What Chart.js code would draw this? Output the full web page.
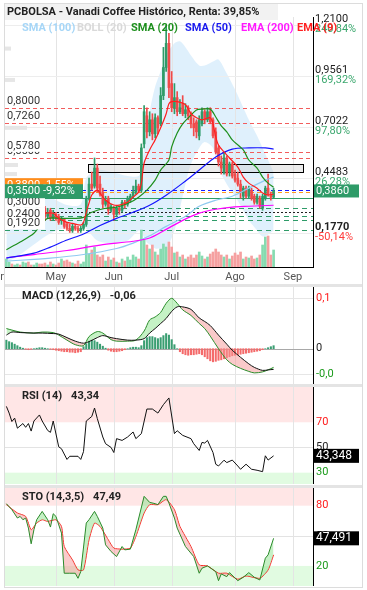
<!DOCTYPE html>
<html lang="es">
<head>
<meta charset="utf-8">
<title>PCBOLSA - Vanadi Coffee</title>
<script src="https://cdn.jsdelivr.net/npm/chart.js@4.4.1/dist/chart.umd.min.js"></script>
<style>
  html, body { margin: 0; padding: 0; background: #fff; }
  #wrap { position: relative; width: 367px; height: 590px; overflow: hidden; }
  #wrap canvas { position: absolute; left: 0; }
  .frame { position: absolute; left: 4px; top: 3px; width: 357px; height: 583px; border: 1px solid #dcdcdc; }
  .sep { position: absolute; left: 5px; width: 357px; background: #e4e4e4; }
</style>
</head>
<body>
<div id="wrap">
  <div class="frame"></div>
  <div class="sep" style="top:284px;height:3px"></div>
  <div class="sep" style="top:384px;height:3px"></div>
  <div class="sep" style="top:485px;height:3px"></div>
  <canvas id="priceChart" width="367" height="285" style="top:0"></canvas>
  <canvas id="macdChart" width="367" height="100" style="top:285px"></canvas>
  <canvas id="rsiChart" width="367" height="100" style="top:385px"></canvas>
  <canvas id="stoChart" width="367" height="105" style="top:485px"></canvas>
</div>
<script>
// ============================================
// PCBOLSA — Vanadi Coffee, daily candles + indicators
// ============================================

// ---- month labels (trading-day index where each month starts) ----
const months   = ['Abr', 'May', 'Jun', 'Jul', 'Ago', 'Sep'];
const monthDay = [-4, 18, 39, 60, 83, 104];

// ---- daily OHLC + volume, trading day 0 = 3 Apr ----
const open = [
  0.26, 0.27, 0.29, 0.26, 0.28, 0.30, 0.27, 0.29, 0.31, 0.28,
  0.27, 0.29, 0.30, 0.28, 0.30, 0.26, 0.29, 0.25, 0.27, 0.26,
  0.24, 0.25, 0.22, 0.20, 0.19, 0.21, 0.20, 0.19, 0.20, 0.22,
  0.35, 0.42, 0.41, 0.50, 0.42, 0.38, 0.32, 0.35, 0.29, 0.30,
  0.27, 0.30, 0.29, 0.33, 0.32, 0.34, 0.36, 0.38, 0.41, 0.39,
  0.62, 0.76, 0.68, 0.74, 0.67, 0.75, 0.72, 0.86, 1.00, 1.12,
  0.92, 0.80, 0.85, 0.78, 0.82, 0.77, 0.80, 0.76, 0.72, 0.73,
  0.66, 0.72, 0.78, 0.74, 0.78, 0.74, 0.68, 0.60, 0.53, 0.48,
  0.55, 0.48, 0.52, 0.47, 0.45, 0.42, 0.36, 0.40, 0.36, 0.39,
  0.36, 0.33, 0.35, 0.30, 0.35, 0.40, 0.37, 0.355
];
const high = [
  0.29, 0.30, 0.30, 0.29, 0.31, 0.31, 0.30, 0.32, 0.32, 0.29,
  0.30, 0.31, 0.31, 0.29, 0.31, 0.30, 0.30, 0.29, 0.28, 0.27,
  0.26, 0.25, 0.23, 0.22, 0.22, 0.22, 0.21, 0.21, 0.23, 0.36,
  0.45, 0.48, 0.55, 0.52, 0.46, 0.40, 0.36, 0.36, 0.32, 0.31,
  0.31, 0.31, 0.34, 0.34, 0.36, 0.37, 0.41, 0.44, 0.42, 0.62,
  0.81, 0.80, 0.78, 0.77, 0.77, 0.76, 0.90, 1.10, 1.21, 1.17,
  0.98, 0.92, 0.88, 0.84, 0.86, 0.82, 0.81, 0.78, 0.75, 0.74,
  0.76, 0.80, 0.79, 0.80, 0.80, 0.75, 0.70, 0.61, 0.56, 0.58,
  0.56, 0.53, 0.53, 0.49, 0.48, 0.44, 0.41, 0.41, 0.41, 0.40,
  0.37, 0.37, 0.36, 0.37, 0.41, 0.47, 0.38, 0.40
];
const low = [
  0.25, 0.26, 0.25, 0.25, 0.27, 0.26, 0.26, 0.28, 0.27, 0.26,
  0.26, 0.28, 0.27, 0.26, 0.24, 0.25, 0.24, 0.24, 0.24, 0.22,
  0.22, 0.20, 0.19, 0.18, 0.18, 0.19, 0.18, 0.18, 0.19, 0.21,
  0.34, 0.39, 0.40, 0.38, 0.36, 0.30, 0.31, 0.27, 0.28, 0.24,
  0.26, 0.27, 0.28, 0.30, 0.31, 0.33, 0.35, 0.37, 0.38, 0.38,
  0.60, 0.65, 0.66, 0.64, 0.65, 0.67, 0.71, 0.84, 0.98, 0.85,
  0.78, 0.77, 0.76, 0.77, 0.76, 0.75, 0.74, 0.70, 0.66, 0.65,
  0.64, 0.71, 0.72, 0.73, 0.72, 0.65, 0.57, 0.51, 0.47, 0.47,
  0.46, 0.46, 0.45, 0.43, 0.41, 0.35, 0.34, 0.35, 0.35, 0.34,
  0.32, 0.32, 0.30, 0.29, 0.34, 0.36, 0.34, 0.35
];
const close = [
  0.27, 0.29, 0.26, 0.28, 0.30, 0.27, 0.29, 0.31, 0.28, 0.27,
  0.29, 0.30, 0.28, 0.27, 0.26, 0.28, 0.25, 0.27, 0.25, 0.23,
  0.25, 0.21, 0.20, 0.19, 0.21, 0.20, 0.19, 0.20, 0.22, 0.35,
  0.42, 0.40, 0.50, 0.40, 0.37, 0.32, 0.34, 0.29, 0.31, 0.27,
  0.30, 0.29, 0.33, 0.32, 0.35, 0.36, 0.38, 0.41, 0.39, 0.60,
  0.78, 0.68, 0.74, 0.67, 0.75, 0.70, 0.86, 1.00, 1.12, 0.90,
  0.80, 0.85, 0.78, 0.80, 0.77, 0.79, 0.76, 0.72, 0.70, 0.68,
  0.74, 0.78, 0.74, 0.78, 0.73, 0.66, 0.58, 0.53, 0.50, 0.55,
  0.47, 0.52, 0.46, 0.44, 0.42, 0.38, 0.40, 0.36, 0.40, 0.35,
  0.33, 0.36, 0.31, 0.36, 0.40, 0.37, 0.355, 0.386
];
const volume = [
  8, 5, 3, 2, 3, 2, 5, 4, 5, 2,
  2, 4, 3, 3, 4, 2, 5, 3, 2, 4,
  8, 6, 7, 5, 4, 3, 6, 3, 5, 22,
  13, 17, 20, 12, 10, 12, 6, 10, 7, 9,
  5, 4, 8, 6, 10, 7, 12, 10, 8, 37,
  27, 22, 18, 22, 15, 12, 18, 23, 20, 25,
  20, 14, 15, 10, 12, 8, 10, 12, 9, 12,
  15, 11, 8, 10, 13, 15, 18, 15, 12, 10,
  12, 8, 11, 14, 12, 15, 8, 10, 9, 11,
  8, 9, 12, 22, 30, 31, 12, 17
];

// ---- moving averages (read at the days listed) ----
const sma20Day = [0, 5, 10, 13, 15, 20, 25, 28, 31, 36, 40, 45, 48, 51, 54, 56, 59, 60, 62, 64, 67, 69, 71, 74, 76, 78, 80, 82, 86, 88, 91, 93, 95, 97];
const sma20    = [0.094, 0.132, 0.176, 0.226, 0.25, 0.25, 0.25, 0.255, 0.28, 0.30, 0.305, 0.33, 0.355, 0.39, 0.44, 0.49, 0.54, 0.605, 0.674, 0.72, 0.763, 0.789, 0.793, 0.793, 0.754, 0.71, 0.68, 0.64, 0.59, 0.54, 0.50, 0.455, 0.425, 0.405];
const sma50Day = [0, 10, 16, 22, 28, 34, 40, 46, 52, 58, 64, 70, 76, 82, 88, 94, 97];
const sma50    = [0.052, 0.077, 0.107, 0.142, 0.172, 0.214, 0.25, 0.28, 0.315, 0.365, 0.425, 0.49, 0.555, 0.594, 0.60, 0.60, 0.594];
const sma100Day = [0, 16, 28, 40, 46, 52, 58, 65, 70, 76, 82, 88, 94, 97];
const sma100    = [0.037, 0.052, 0.07, 0.10, 0.127, 0.163, 0.21, 0.26, 0.31, 0.34, 0.36, 0.40, 0.44, 0.455];
const ema200Day = [0, 10, 22, 34, 46, 52, 58, 64, 70, 76, 82, 88, 97];
const ema200    = [0.054, 0.07, 0.09, 0.117, 0.136, 0.152, 0.195, 0.24, 0.276, 0.295, 0.306, 0.31, 0.315];
const ema9Day = [0, 5, 10, 14, 17, 19, 22, 24, 27, 28, 29, 30, 31, 33, 34, 36, 39, 41, 44, 46, 48, 49, 50, 52, 54, 56, 58, 59, 60, 62, 65, 67, 69, 71, 74, 75, 76, 77, 79, 81, 84, 86, 88, 91, 93, 95, 97];
const ema9    = [0.27, 0.28, 0.28, 0.276, 0.276, 0.25, 0.23, 0.225, 0.216, 0.23, 0.28, 0.326, 0.366, 0.39, 0.375, 0.34, 0.316, 0.316, 0.33, 0.356, 0.38, 0.425, 0.525, 0.59, 0.64, 0.70, 0.77, 0.82, 0.83, 0.83, 0.815, 0.77, 0.75, 0.74, 0.75, 0.72, 0.655, 0.614, 0.58, 0.55, 0.505, 0.455, 0.425, 0.40, 0.376, 0.366, 0.37];

// ---- Bollinger (20) ----
const bollDay   = [0, 5, 10, 16, 22, 27, 29, 33, 38, 44, 48, 49, 51, 52, 54, 56, 58, 61, 63, 65, 67, 70, 72, 75, 77, 80, 83, 86, 88, 91, 93, 95, 97];
const bollUpper = [0.45, 0.42, 0.40, 0.356, 0.316, 0.32, 0.45, 0.49, 0.48, 0.46, 0.46, 0.50, 0.70, 0.78, 0.905, 0.98, 1.06, 1.12, 1.13, 1.10, 1.06, 1.01, 1.01, 1.03, 1.04, 0.97, 0.89, 0.80, 0.74, 0.66, 0.60, 0.54, 0.48];
const bollLower = [0.03, 0.07, 0.12, 0.176, 0.206, 0.216, 0.20, 0.14, 0.127, 0.14, 0.19, 0.18, 0.13, 0.12, 0.10, 0.10, 0.10, 0.19, 0.30, 0.42, 0.52, 0.60, 0.63, 0.60, 0.50, 0.42, 0.36, 0.29, 0.24, 0.19, 0.16, 0.17, 0.19];

// ---- horizontal levels and zone ----
const redLevels    = [0.80, 0.726, 0.578, 0.55];
const greenLevels  = [0.30, 0.26, 0.24, 0.192];
const blueLevel    = 0.39;
const orangeLevel  = 0.38;
const supportLevel = 0.35;
const dottedLevel  = 0.28;
const leftLabels   = [0.80, 0.726, 0.55, 0.578, 0.30, 0.24, 0.192];
const zoneDays  = [29.7, 107.8];
const zonePrice = [0.477, 0.518];
const rightTicks = [1.21, 0.9561, 0.7022, 0.4483, 0.177];

// ---- volume by price (left edge) ----
const vpPrice  = [1.094, 0.938, 0.70, 0.59, 0.515, 0.47];
const vpVolume = [12, 20, 44, 30, 26, 24];

// ---- MACD (12,26,9) ----
const macdDay = [0, 2, 5, 10, 13, 17, 19, 22, 25, 28, 30, 33, 35, 38, 40, 44, 47, 50, 52, 54, 56, 58, 60, 62, 64, 67, 70, 72, 74, 77, 80, 82, 85, 88, 90, 93, 95, 97];
const macd    = [0.040, 0.037, 0.033, 0.031, 0.033, 0.032, 0.027, 0.017, 0.008, 0.006, 0.024, 0.034, 0.031, 0.018, 0.015, 0.015, 0.017, 0.035, 0.057, 0.063, 0.072, 0.090, 0.100, 0.090, 0.077, 0.066, 0.050, 0.040, 0.025, 0.000, -0.022, -0.031, -0.039, -0.045, -0.048, -0.046, -0.042, -0.037];
const signal  = [0.027, 0.033, 0.032, 0.031, 0.031, 0.030, 0.029, 0.022, 0.015, 0.011, 0.014, 0.022, 0.026, 0.022, 0.020, 0.017, 0.017, 0.020, 0.031, 0.040, 0.050, 0.060, 0.074, 0.083, 0.083, 0.078, 0.061, 0.054, 0.046, 0.027, 0.009, -0.003, -0.017, -0.030, -0.037, -0.043, -0.042, -0.041];
const macdHist = [
  0.017, 0.014, 0.012, 0.009, 0.006, 0.003, 0.001, -0.001, -0.002, -0.001,
  0.000, 0.001, 0.002, 0.002, 0.001, 0.000, -0.001, -0.002, -0.003, -0.004,
  -0.005, -0.006, -0.006, -0.007, -0.007, -0.008, -0.007, -0.006, 0.004, 0.010,
  0.015, 0.017, 0.016, 0.013, 0.009, 0.005, 0.001, -0.003, -0.005, -0.006,
  -0.006, -0.005, -0.004, -0.002, 0.000, 0.002, 0.003, 0.003, 0.002, 0.006,
  0.016, 0.022, 0.024, 0.024, 0.022, 0.020, 0.022, 0.026, 0.030, 0.027,
  0.018, 0.008, 0.000, -0.006, -0.010, -0.012, -0.013, -0.012, -0.012, -0.011,
  -0.010, -0.012, -0.016, -0.020, -0.024, -0.026, -0.025, -0.023, -0.022, -0.020,
  -0.018, -0.016, -0.014, -0.013, -0.012, -0.011, -0.010, -0.009, -0.008, -0.007,
  -0.006, -0.005, -0.004, -0.002, 0.000, 0.002, 0.004, 0.006
];
const macdTicks = [0.1, 0, -0.05];
const macdTickText = ['0,1', '0', '-0,0'];

// ---- RSI (14) ----
const rsiDay = [0, 1, 2, 3, 4, 6, 7, 8, 9, 10, 12, 13, 15, 16, 17, 19, 20, 22, 23, 26, 27, 28, 29, 31, 32, 33, 35, 36, 38, 39, 40, 42, 44, 46, 47, 49, 51, 53, 55, 57, 59, 61, 62, 64, 67, 68, 70, 71, 72, 73, 75, 76, 77, 79, 80, 82, 84, 85, 87, 89, 91, 93, 94, 95, 97];
const rsi    = [82.6, 77.3, 70.6, 73.3, 65.3, 69, 66, 69, 63, 71, 75.8, 71, 63.5, 62, 71, 50.5, 49, 40.5, 43, 43, 40.5, 46.7, 71, 74.6, 81.3, 73, 58.3, 53, 50, 46, 57, 55.6, 58.3, 62.3, 57, 61, 80.5, 80.5, 77.3, 84, 89.3, 61, 63.3, 59.6, 57, 53, 47.6, 54, 53.5, 55.6, 46, 36.7, 35.3, 39.9, 38, 40, 35.3, 32.7, 36.7, 32.7, 31.9, 30.8, 43.4, 40, 43.348];

// ---- Stochastic (14,3,5) ----
const stoKDay = [0, 2, 4, 5, 6, 7, 8, 9, 10, 11, 13, 15, 16, 17, 18, 20, 21, 23, 25, 26, 27, 29, 30, 32, 33, 35, 36, 38, 40, 42, 43, 45, 47, 50, 52, 54, 55, 57, 58, 59, 61, 62, 65, 68, 70, 71, 73, 76, 77, 78, 80, 81, 84, 86, 88, 90, 92, 94, 95, 97];
const stoK    = [82, 76, 67.7, 69.3, 66, 67.7, 57.7, 42, 56, 66, 74.3, 66, 58.7, 72, 69.3, 52.7, 12.7, 12.7, 12.7, 7.7, 14.3, 62.7, 66, 74.3, 69.3, 57.7, 41, 34.3, 29.3, 39.3, 36, 36.7, 56, 89.3, 83.3, 82, 81, 89.3, 89.3, 82.7, 67.7, 57.7, 39.3, 29.3, 12.7, 17.7, 20, 14.3, 5.3, 12, 9.3, 13.3, 5.3, 8.7, 13.3, 8.7, 6, 27.7, 31, 47.491];
const stoDDay = [0, 4, 7, 9, 11, 13, 15, 18, 20, 21, 24, 26, 28, 30, 32, 34, 37, 39, 42, 45, 47, 50, 52, 55, 58, 61, 63, 67, 70, 73, 77, 80, 84, 87, 92, 95, 97];
const stoD    = [81, 72.7, 69.3, 56, 62.7, 66, 64.3, 66, 59.3, 39.3, 26, 16, 16, 46, 62.7, 59.3, 46, 37.7, 36.7, 37.7, 49.3, 72.7, 81, 81, 86, 76, 59.3, 39.3, 21, 20, 12.7, 12.7, 6.7, 10, 7.7, 16, 31];

// ============================================
// helpers
// ============================================
const X_MIN = -0.5, X_MAX = 111.3;
const GREEN = '#2e9b68', RED = '#f04a4a';
const FONT = '11px Roboto, sans-serif';
const BOLD = 'bold 11px Roboto, sans-serif';
const dayIdx = close.map((_, i) => i);
const lastClose = close[close.length - 1];
const prevClose = close[close.length - 2];

const pts = (days, vals) => days.map((d, k) => ({ x: d, y: vals[k] }));
const fmt = (v, d) => v.toFixed(d).replace('.', ',');
const trunc = (v, d) => fmt(Math.trunc(v * Math.pow(10, d)) / Math.pow(10, d), d);
const snap = v => Math.round(v) + 0.5;
const upDown = (up, down) => close.map((c, i) => (c >= open[i] ? up : down));

function txt(ctx, s, x, y, font, color, align) {
  ctx.font = font;
  ctx.fillStyle = color;
  ctx.textAlign = align || 'left';
  ctx.textBaseline = 'middle';
  ctx.fillText(s, x, y);
}

function hline(ctx, a, py, color, dash, width) {
  ctx.save();
  ctx.strokeStyle = color;
  ctx.lineWidth = width || 1;
  ctx.setLineDash(dash || []);
  ctx.beginPath();
  ctx.moveTo(a.left, py);
  ctx.lineTo(a.right, py);
  ctx.stroke();
  ctx.restore();
}

function monthGrid(chart) {
  const { ctx, chartArea: a, scales: { x } } = chart;
  ctx.save();
  ctx.strokeStyle = '#e4e4e4';
  ctx.lineWidth = 1;
  monthDay.forEach(d => {
    const px = snap(x.getPixelForValue(d));
    if (px <= a.left || px >= a.right) return;
    ctx.beginPath();
    ctx.moveTo(px, a.top);
    ctx.lineTo(px, a.bottom);
    ctx.stroke();
  });
  ctx.restore();
}

function axisLine(chart) {
  const { ctx, chartArea: a } = chart;
  ctx.save();
  ctx.strokeStyle = '#000';
  ctx.lineWidth = 1;
  ctx.beginPath();
  ctx.moveTo(snap(a.right), a.top);
  ctx.lineTo(snap(a.right), a.bottom);
  ctx.stroke();
  ctx.restore();
}

function panelTitle(chart, name, value) {
  const { ctx, chartArea: a } = chart;
  txt(ctx, name, 22, a.top + 9, BOLD, '#222');
  ctx.font = BOLD;
  txt(ctx, value, 22 + ctx.measureText(name).width + 9, a.top + 9, BOLD, '#222');
}

function valueTag(chart, v, text) {
  const { ctx, chartArea: a, scales: { y } } = chart;
  const py = y.getPixelForValue(v);
  ctx.fillStyle = '#000';
  ctx.fillRect(a.right + 1, py - 7, 45, 14);
  txt(ctx, text, a.right + 3, py, '12px Roboto, sans-serif', '#fff');
}

function zones(chart, hi, lo) {
  const { ctx, chartArea: a, scales: { y } } = chart;
  const yHi = y.getPixelForValue(hi), yLo = y.getPixelForValue(lo);
  ctx.fillStyle = '#ffe6e6';
  ctx.fillRect(a.left, a.top, a.right - a.left, yHi - a.top);
  ctx.fillStyle = '#e1fbe1';
  ctx.fillRect(a.left, yLo, a.right - a.left, a.bottom - yLo);
}

function baseOptions(padding, yMin, yMax) {
  return {
    responsive: false,
    animation: false,
    events: [],
    layout: { padding },
    plugins: { legend: { display: false }, tooltip: { enabled: false } },
    scales: {
      x: { type: 'linear', min: X_MIN, max: X_MAX, offset: false, display: false },
      y: { type: 'linear', min: yMin, max: yMax, display: false }
    }
  };
}

function lineDs(days, vals, color, width, extra) {
  return Object.assign({
    type: 'line',
    data: pts(days, vals),
    borderColor: color,
    borderWidth: width,
    pointRadius: 0,
    tension: 0.3,
    fill: false
  }, extra || {});
}

// ============================================
// 1. Price panel
// ============================================
const priceDecor = {
  id: 'priceDecor',
  beforeDatasetsDraw(chart) {
    const { ctx, chartArea: a, scales: { x, y } } = chart;
    monthGrid(chart);
    rightTicks.forEach(v => hline(ctx, a, snap(y.getPixelForValue(v)), '#ededed'));

    ctx.fillStyle = '#e6e6e6';
    vpPrice.forEach((p, k) => ctx.fillRect(a.left, y.getPixelForValue(p) - 2, vpVolume[k] * 0.5, 4));

    redLevels.forEach(v => hline(ctx, a, snap(y.getPixelForValue(v)), '#f25c5c', [4, 3]));
    greenLevels.forEach(v => hline(ctx, a, snap(y.getPixelForValue(v)), GREEN, [5, 4]));
    hline(ctx, a, snap(y.getPixelForValue(dottedLevel)), '#222', [2, 2]);
    hline(ctx, a, snap(y.getPixelForValue(supportLevel)), GREEN);
    hline(ctx, a, snap(y.getPixelForValue(orangeLevel)), '#ff9a1f', [4, 3], 1.2);
    hline(ctx, a, snap(y.getPixelForValue(blueLevel)), '#1a1aff', [4, 3], 1.2);

    // rectangle zone
    const x0 = x.getPixelForValue(zoneDays[0]), x1 = x.getPixelForValue(zoneDays[1]);
    const y0 = y.getPixelForValue(zonePrice[1]), y1 = y.getPixelForValue(zonePrice[0]);
    ctx.fillStyle = 'rgba(205,205,205,0.4)';
    ctx.fillRect(x0, y0, x1 - x0, y1 - y0);
    ctx.strokeStyle = '#000';
    ctx.lineWidth = 1;
    ctx.strokeRect(snap(x0), snap(y0), Math.round(x1 - x0), Math.round(y1 - y0));
  },
  afterDatasetsDraw(chart) {
    const { ctx, chartArea: a, scales: { x, y } } = chart;

    // axis lines
    ctx.strokeStyle = '#000';
    ctx.lineWidth = 1;
    ctx.beginPath();
    ctx.moveTo(a.left, snap(a.bottom));
    ctx.lineTo(a.right + 1, snap(a.bottom));
    ctx.stroke();
    axisLine(chart);

    // left price labels
    leftLabels.forEach(v => {
      const py = y.getPixelForValue(v);
      ctx.fillStyle = '#fff';
      ctx.fillRect(a.left, py - 13, 40, 12.5);
      txt(ctx, fmt(v, 4), a.left + 2, py - 6.5, FONT, '#333');
    });

    // left tags
    [[orangeLevel, '#ff8c1a'], [supportLevel, GREEN]].forEach(([v, c]) => {
      const py = y.getPixelForValue(v);
      ctx.fillStyle = c;
      ctx.fillRect(a.left, py - 14, 78, 14);
      txt(ctx, fmt(v, 4), a.left + 2, py - 7, FONT, '#fff');
      txt(ctx, trunc((v / lastClose - 1) * 100, 2) + '%', a.left + 38, py - 7, FONT, '#fff');
    });

    // right axis labels
    rightTicks.forEach((v, k) => {
      const py = y.getPixelForValue(v);
      const isLast = k === rightTicks.length - 1;
      txt(ctx, fmt(v, 4), a.right + 2, py - 6, isLast ? BOLD : FONT, '#222');
      const p = (v / prevClose - 1) * 100;
      txt(ctx, trunc(p, 2) + '%', a.right + 2, py + 4, FONT, p >= 0 ? '#3aa76d' : '#ff3b3b');
    });

    // last price tag
    const pyl = y.getPixelForValue(lastClose);
    ctx.fillStyle = GREEN;
    ctx.fillRect(a.right + 1, pyl - 6.5, 45, 13);
    txt(ctx, fmt(lastClose, 4), a.right + 3, pyl, FONT, '#fff');

    // title
    ctx.fillStyle = '#f2f2f2';
    ctx.fillRect(5, 4, 273, 16);
    txt(ctx, 'PCBOLSA - Vanadi Coffee Histórico, Renta: 39,85%', 7, 12.5, BOLD, '#222');

    // indicator legend
    [['SMA (100)', '#a6d6f7', 22], ['BOLL (20)', '#d9d9d9', 77], ['SMA (20)', '#1d8f1d', 131],
     ['SMA (50)', '#1a1aee', 185], ['EMA (200)', '#ff1aff', 241], ['EMA (9)', '#ff2020', 297]]
      .forEach(([t, c, px]) => txt(ctx, t, px, 28, BOLD, c));

    // month labels
    months.forEach((m, k) => txt(ctx, m, x.getPixelForValue(monthDay[k]), a.bottom + 10, FONT, '#555', 'center'));
  }
};

const priceOpts = baseOptions({ left: 5, right: 54, top: 17, bottom: 18 }, 0.008, 1.251);
priceOpts.scales.yv = { type: 'linear', min: 0, max: 250, display: false };
priceOpts.plugins.filler = { drawTime: 'beforeDatasetsDraw' };

new Chart(document.getElementById('priceChart'), {
  type: 'bar',
  data: {
    datasets: [
      lineDs(bollDay, bollUpper, 'rgba(0,0,0,0)', 1, { fill: '+1', backgroundColor: 'rgba(150,205,245,0.3)', order: 10 }),
      lineDs(bollDay, bollLower, 'rgba(0,0,0,0)', 1, { order: 10 }),
      {
        type: 'bar', yAxisID: 'yv', data: pts(dayIdx, volume),
        backgroundColor: upDown('#86dbb0', '#f5a0a0'), barThickness: 2, grouped: false, order: 9
      },
      {
        type: 'bar', data: dayIdx.map(i => ({ x: i, y: [low[i], high[i]] })),
        backgroundColor: upDown(GREEN, RED), barThickness: 1, grouped: false, order: 8
      },
      {
        type: 'bar', data: dayIdx.map(i => ({ x: i, y: [open[i], close[i]] })),
        backgroundColor: upDown(GREEN, RED), barThickness: 2, minBarLength: 1, grouped: false, order: 7
      },
      lineDs(sma100Day, sma100, '#8fcaf0', 1.2, { order: 5 }),
      lineDs(ema200Day, ema200, '#ff00ff', 1.2, { order: 4 }),
      lineDs(sma50Day, sma50, '#1515ff', 1.2, { order: 3 }),
      lineDs(sma20Day, sma20, '#1d8f1d', 1.2, { order: 2 }),
      lineDs(ema9Day, ema9, '#ff1f1f', 1.2, { order: 1 })
    ]
  },
  options: priceOpts,
  plugins: [priceDecor]
});

// ============================================
// 2. MACD panel
// ============================================
const macdDecor = {
  id: 'macdDecor',
  beforeDatasetsDraw(chart) {
    const { ctx, chartArea: a, scales: { y } } = chart;
    monthGrid(chart);
    hline(ctx, a, snap(y.getPixelForValue(macdTicks[0])), '#e6e6e6');
    hline(ctx, a, snap(y.getPixelForValue(macdTicks[2])), '#e6e6e6');
    hline(ctx, a, snap(y.getPixelForValue(0)), '#a8a8a8');
  },
  afterDatasetsDraw(chart) {
    const { ctx, chartArea: a, scales: { y } } = chart;
    axisLine(chart);
    panelTitle(chart, 'MACD (12,26,9)', '-0,06');
    const colors = ['#ff1a1a', '#222', '#1a9a1a'];
    macdTicks.forEach((v, k) => txt(ctx, macdTickText[k], a.right + 3, y.getPixelForValue(v), BOLD.replace('bold ', ''), colors[k]));
  }
};

new Chart(document.getElementById('macdChart'), {
  type: 'bar',
  data: {
    datasets: [
      {
        type: 'bar', data: pts(dayIdx, macdHist),
        backgroundColor: macdHist.map(v => (v >= 0 ? '#3a9e72' : '#f46a6a')),
        barThickness: 1.4, grouped: false, order: 3
      },
      lineDs(macdDay, macd, '#2a8c2a', 1, {
        fill: { target: '+1', above: 'rgba(140,230,140,0.5)', below: 'rgba(245,150,150,0.5)' }, order: 2
      }),
      lineDs(macdDay, signal, '#111', 1, { order: 1 })
    ]
  },
  options: baseOptions({ left: 5, right: 54, top: 2, bottom: 1 }, -0.070, 0.1224),
  plugins: [macdDecor]
});

// ============================================
// 3. RSI panel
// ============================================
const rsiDecor = {
  id: 'rsiDecor',
  beforeDatasetsDraw(chart) {
    const { ctx, chartArea: a, scales: { y } } = chart;
    zones(chart, 70, 30);
    monthGrid(chart);
    hline(ctx, a, snap(y.getPixelForValue(50)), '#e3e3e3');
  },
  afterDatasetsDraw(chart) {
    const { ctx, chartArea: a, scales: { y } } = chart;
    axisLine(chart);
    const last = rsi[rsi.length - 1];
    panelTitle(chart, 'RSI (14)', trunc(last, 2));
    txt(ctx, '70', a.right + 3, y.getPixelForValue(70), FONT, '#ff1a1a');
    txt(ctx, '50', a.right + 3, y.getPixelForValue(50), FONT, '#222');
    txt(ctx, '30', a.right + 3, y.getPixelForValue(30), FONT, '#1a9a1a');
    valueTag(chart, last, fmt(last, 3));
  }
};

new Chart(document.getElementById('rsiChart'), {
  type: 'line',
  data: { datasets: [lineDs(rsiDay, rsi, '#111', 1, { tension: 0 })] },
  options: baseOptions({ left: 5, right: 54, top: 2, bottom: 1 }, 21, 98),
  plugins: [rsiDecor]
});

// ============================================
// 4. Stochastic panel
// ============================================
const stoDecor = {
  id: 'stoDecor',
  beforeDatasetsDraw(chart) {
    const { ctx, chartArea: a, scales: { y } } = chart;
    zones(chart, 80, 20);
    monthGrid(chart);
    hline(ctx, a, snap(y.getPixelForValue(50)), '#e3e3e3');
  },
  afterDatasetsDraw(chart) {
    const { ctx, chartArea: a, scales: { y } } = chart;
    axisLine(chart);
    const last = stoK[stoK.length - 1];
    panelTitle(chart, 'STO (14,3,5)', trunc(last, 2));
    txt(ctx, '80', a.right + 3, y.getPixelForValue(80), FONT, '#ff1a1a');
    txt(ctx, '50', a.right + 3, y.getPixelForValue(50), FONT, '#222');
    txt(ctx, '20', a.right + 3, y.getPixelForValue(20), FONT, '#1a9a1a');
    valueTag(chart, last, fmt(last, 3));
  }
};

new Chart(document.getElementById('stoChart'), {
  type: 'line',
  data: {
    datasets: [
      lineDs(stoKDay, stoK, '#2a8a2a', 1, {
        tension: 0, fill: { target: '+1', above: 'rgba(140,225,140,0.5)', below: 'rgba(245,150,150,0.5)' }
      }),
      lineDs(stoDDay, stoD, '#ff1a1a', 1, { tension: 0.2 })
    ]
  },
  options: baseOptions({ left: 5, right: 54, top: 3, bottom: 4 }, 0, 97.6),
  plugins: [stoDecor]
});
</script>
</body>
</html>
